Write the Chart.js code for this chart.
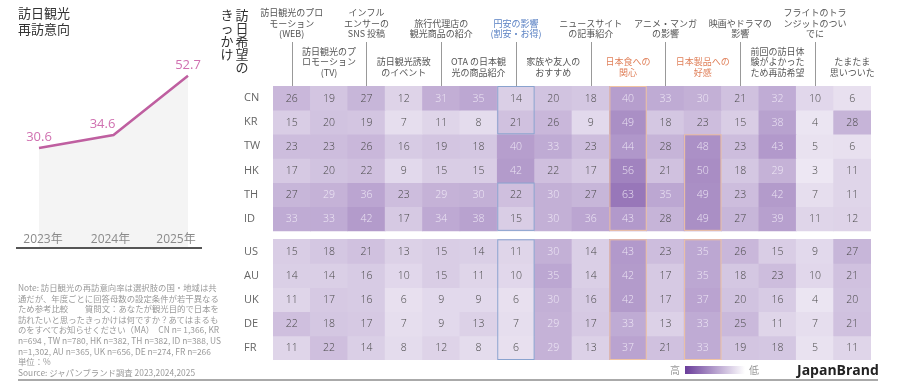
<!DOCTYPE html>
<html>
<head>
<meta charset="utf-8">
<script src="https://cdn.jsdelivr.net/npm/chart.js@4.4.1/dist/chart.umd.min.js"></script>
<style>
  body { margin: 0; background: #fff; font-family: 'Noto Sans CJK JP', 'Open Sans', sans-serif; }
  #wrap { position: relative; width: 904px; height: 382px; overflow: hidden; }
  #lineBox { position: absolute; left: 0; top: 0; width: 220px; height: 260px; }
  #heatBox { position: absolute; left: 0; top: 0; width: 904px; height: 382px; }
  .abs { position: absolute; white-space: nowrap; }
  #title { left: 18px; top: 5px; font-size: 13px; line-height: 16px; color: #333; }
  #note { left: 18px; top: 282px; font-size: 8.4px; line-height: 10.6px; color: #9a9a9a; }
  #base { left: 16px; top: 247px; width: 186px; height: 2px; background: #555; }
  #foot { left: 18px; top: 379px; width: 860px; height: 1.5px; background: #aaa; }
  #grad { left: 685px; top: 366px; width: 60px; height: 8px; background: linear-gradient(to right, #6a3d9a, #fff); }
  .lg { top: 362px; font-size: 10px; color: #999; }
  #brand { left: 797px; top: 360px; font-family: 'Open Sans', sans-serif; font-weight: 700; font-size: 14px; color: #222; }
</style>
</head>
<body>
<div id="wrap">
  <div id="lineBox"><canvas id="lineChart" width="220" height="260"></canvas></div>
  <div id="heatBox"><canvas id="heatChart" width="904" height="382"></canvas></div>
  <div class="abs" id="title">訪日観光<br>再訪意向</div>
  <div class="abs" id="base"></div>
  <div class="abs" id="note">Note: 訪日観光の再訪意向率は選択肢の国・地域は共<br>通だが、年度ごとに回答母数の設定条件が若干異なる<br>ため参考比較　　質問文：あなたが観光目的で日本を<br>訪れたいと思ったきっかけは何ですか？あてはまるも<br>のをすべてお知らせください（MA）　CN n= 1,366, KR<br>n=694 , TW n=780, HK n=382, TH n=382, ID n=388,  US<br>n=1,302, AU n=365, UK n=656, DE n=274, FR n=266<br>単位：%<br>Source: ジャパンブランド調査 2023,2024,2025</div>
  <div class="abs" id="foot"></div>
  <div class="abs lg" style="left:670px">高</div>
  <div class="abs" id="grad"></div>
  <div class="abs lg" style="left:749px">低</div>
  <div class="abs" id="brand">JapanBrand</div>
</div>
<script>
// 再訪意向（左の折れ線）
const years = ['2023年', '2024年', '2025年']
const revisit = [30.6, 34.6, 52.7]

// 訪日希望のきっかけ（列）
const factorLabels = [
  ['訪日観光のプロ', 'モーション', '(WEB)'],
  ['訪日観光のプ', 'ロモーション', '(TV)'],
  ['インフル', 'エンサーの', 'SNS 投稿'],
  ['訪日観光誘致', 'のイベント'],
  ['旅行代理店の', '観光商品の紹介'],
  ['OTA の日本観', '光の商品紹介'],
  ['円安の影響', '(割安・お得)'],
  ['家族や友人の', 'おすすめ'],
  ['ニュースサイト', 'の記事紹介'],
  ['日本食への', '関心'],
  ['アニメ・マンガ', 'の影響'],
  ['日本製品への', '好感'],
  ['映画やドラマの', '影響'],
  ['前回の訪日体', '験がよかった', 'ため再訪希望'],
  ['フライトのトラ', 'ンジットのつい', 'でに'],
  ['たまたま', '思いついた']
]
const countries = ['CN', 'KR', 'TW', 'HK', 'TH', 'ID', 'US', 'AU', 'UK', 'DE', 'FR']
const cn = [26, 19, 27, 12, 31, 35, 14, 20, 18, 40, 33, 30, 21, 32, 10, 6]
const kr = [15, 20, 19, 7, 11, 8, 21, 26, 9, 49, 18, 23, 15, 38, 4, 28]
const tw = [23, 23, 26, 16, 19, 18, 40, 33, 23, 44, 28, 48, 23, 43, 5, 6]
const hk = [17, 20, 22, 9, 15, 15, 42, 22, 17, 56, 21, 50, 18, 29, 3, 11]
const th = [27, 29, 36, 23, 29, 30, 22, 30, 27, 63, 35, 49, 23, 42, 7, 11]
const id = [33, 33, 42, 17, 34, 38, 15, 30, 36, 43, 28, 49, 27, 39, 11, 12]
const us = [15, 18, 21, 13, 15, 14, 11, 30, 14, 43, 23, 35, 26, 15, 9, 27]
const au = [14, 14, 16, 10, 15, 11, 10, 35, 14, 42, 17, 35, 18, 23, 10, 21]
const uk = [11, 17, 16, 6, 9, 9, 6, 30, 16, 42, 17, 37, 20, 16, 4, 20]
const de = [22, 18, 17, 7, 9, 13, 7, 29, 17, 33, 13, 33, 25, 11, 7, 21]
const fr = [11, 22, 14, 8, 12, 8, 6, 29, 13, 37, 21, 33, 19, 18, 5, 11]
const tableRows = [cn, kr, tw, hk, th, id, us, au, uk, de, fr]

const GAP = 0.35 // アジアと欧米の間のすきま（行単位）
const rowTop = (i) => (i < 6 ? i : i + GAP)

// 値から色をつくる（白→紫）
function cellColor (v) {
  const a = 0.08 + 0.67 * Math.pow(v / 63, 0.85)
  const r = Math.round(255 - a * 137)
  const g = Math.round(255 - a * 181)
  const b = Math.round(255 - a * 93)
  return `rgb(${r}, ${g}, ${b})`
}

// ---------- 左の折れ線 ----------
const pointOffsets = [0, -11, 0]
const yearOffsets = [4, -3, -12]
const lineLabels = {
  id: 'lineLabels',
  afterDatasetsDraw (chart) {
    const ctx = chart.ctx
    const meta = chart.getDatasetMeta(0)
    const xs = chart.scales.x
    ctx.save()
    ctx.textAlign = 'center'
    ctx.textBaseline = 'middle'
    ctx.font = '13px "Open Sans", sans-serif'
    ctx.fillStyle = '#d070b0'
    meta.data.forEach((pt, i) => {
      ctx.fillText(revisit[i].toFixed(1), pt.x + pointOffsets[i], pt.y - 11)
    })
    // 年のラベル（面の中に重ねる）
    ctx.font = '12px "Open Sans", "Noto Sans CJK JP", sans-serif'
    ctx.fillStyle = '#8a8a8a'
    years.forEach((y, i) => {
      ctx.fillText(y, xs.getPixelForValue(i) + yearOffsets[i], chart.chartArea.bottom - 8)
    })
    ctx.restore()
  }
}

new Chart(document.getElementById('lineChart'), {
  type: 'line',
  data: {
    labels: years,
    datasets: [{
      data: revisit,
      borderColor: '#bf5fa0',
      borderWidth: 2.5,
      backgroundColor: '#f4f4f4',
      fill: 'origin',
      pointRadius: 0,
      tension: 0
    }]
  },
  options: {
    responsive: false,
    animation: false,
    devicePixelRatio: 1,
    layout: { padding: { left: 39, right: 32, top: 52, bottom: 12 } },
    plugins: { legend: { display: false }, tooltip: { enabled: false } },
    scales: {
      y: { display: false, min: 0, max: 60 },
      x: { display: false }
    }
  },
  plugins: [lineLabels]
})

// ---------- ヒートマップ ----------
// 強調枠: [列, 開始行, 終了行(含まない), 色]
const frames = [
  [6, 0, 2, '#8aa3cf'], [6, 4, 6, '#8aa3cf'], [6, 6, 11, '#8aa3cf'],
  [9, 0, 6, '#f0c3a2'], [9, 6, 11, '#f0c3a2'],
  [11, 2, 6, '#f0c3a2'], [11, 6, 11, '#f0c3a2']
]
const heatDecor = {
  id: 'heatDecor',
  afterDatasetsDraw (chart) {
    const ctx = chart.ctx
    const xs = chart.scales.x
    const ys = chart.scales.y
    const w = (chart.chartArea.right - chart.chartArea.left) / factorLabels.length
    // セルの数字
    ctx.save()
    ctx.font = '300 10.5px "Open Sans", sans-serif'
    ctx.textAlign = 'center'
    ctx.textBaseline = 'middle'
    chart.data.datasets.forEach((ds, di) => {
      chart.getDatasetMeta(di).data.forEach((bar, ci) => {
        const v = tableRows[di][ci]
        ctx.fillStyle = v >= 29 ? 'rgba(245, 240, 250, 0.85)' : '#4a4a4a'
        ctx.fillText(String(v), bar.x, (bar.y + bar.base) / 2 + 0.5)
      })
    })
    // 枠線
    frames.forEach(([c, r0, r1, col]) => {
      const x0 = xs.getPixelForValue(c) - w / 2
      const y0 = ys.getPixelForValue(rowTop(r0))
      const y1 = ys.getPixelForValue(rowTop(r1 - 1) + 1)
      ctx.strokeStyle = col
      ctx.lineWidth = 1
      ctx.strokeRect(x0 + 0.5, y0 + 0.5, w - 1, y1 - y0 - 1)
    })
    ctx.restore()
  },
  afterDraw (chart) {
    const ctx = chart.ctx
    const xs = chart.scales.x
    const top = chart.chartArea.top
    ctx.save()
    ctx.font = '9px "Noto Sans CJK JP", sans-serif'
    ctx.textAlign = 'center'
    ctx.textBaseline = 'middle'
    factorLabels.forEach((lines, c) => {
      const x = xs.getPixelForValue(c)
      const upper = c % 2 === 0
      const last = upper ? 34 : 72.5
      ctx.fillStyle = c === 6 ? '#5b82c4' : (c === 9 || c === 11 ? '#e0805a' : '#555')
      lines.forEach((t, k) => {
        ctx.fillText(t, x, last - (lines.length - 1 - k) * 10.5)
      })
      if (upper) {
        ctx.strokeStyle = '#999'
        ctx.lineWidth = 1
        ctx.beginPath()
        ctx.moveTo(Math.round(x) + 0.5, 42)
        ctx.lineTo(Math.round(x) + 0.5, top)
        ctx.stroke()
      }
    })
    // 縦書きタイトル
    ctx.font = '13px "Noto Sans CJK JP", sans-serif'
    ctx.fillStyle = '#333'
    const colA = '訪日希望の'.split('')
    const colB = 'きっかけ'.split('')
    colA.forEach((ch, k) => ctx.fillText(ch, 242, 15 + k * 13))
    colB.forEach((ch, k) => ctx.fillText(ch, 227, 15 + k * 13))
    ctx.restore()
  }
}

new Chart(document.getElementById('heatChart'), {
  type: 'bar',
  data: {
    labels: factorLabels.map((l, i) => i),
    datasets: tableRows.map((vals, r) => ({
      label: countries[r],
      data: vals.map(() => [rowTop(r), rowTop(r) + 1]),
      backgroundColor: (c) => cellColor(tableRows[c.datasetIndex][c.dataIndex]),
      borderWidth: 0,
      grouped: false,
      categoryPercentage: 1,
      barPercentage: 1
    }))
  },
  options: {
    responsive: false,
    animation: false,
    devicePixelRatio: 1,
    layout: { padding: { left: 244, right: 33, top: 86, bottom: 22 } },
    plugins: { legend: { display: false }, tooltip: { enabled: false } },
    scales: {
      x: { display: false },
      y: {
        reverse: true,
        min: 0,
        max: 11 + GAP,
        grid: { display: false },
        border: { display: false },
        afterBuildTicks: (scale) => {
          scale.ticks = countries.map((c, i) => ({ value: rowTop(i) + 0.5 }))
        },
        afterFit: (scale) => { scale.width = 29 },
        ticks: {
          crossAlign: 'far',
          autoSkip: false,
          color: '#666',
          font: { size: 11, family: '"Open Sans", sans-serif' },
          callback: (v, i) => countries[i]
        }
      }
    }
  },
  plugins: [heatDecor]
})
</script>
</body>
</html>
